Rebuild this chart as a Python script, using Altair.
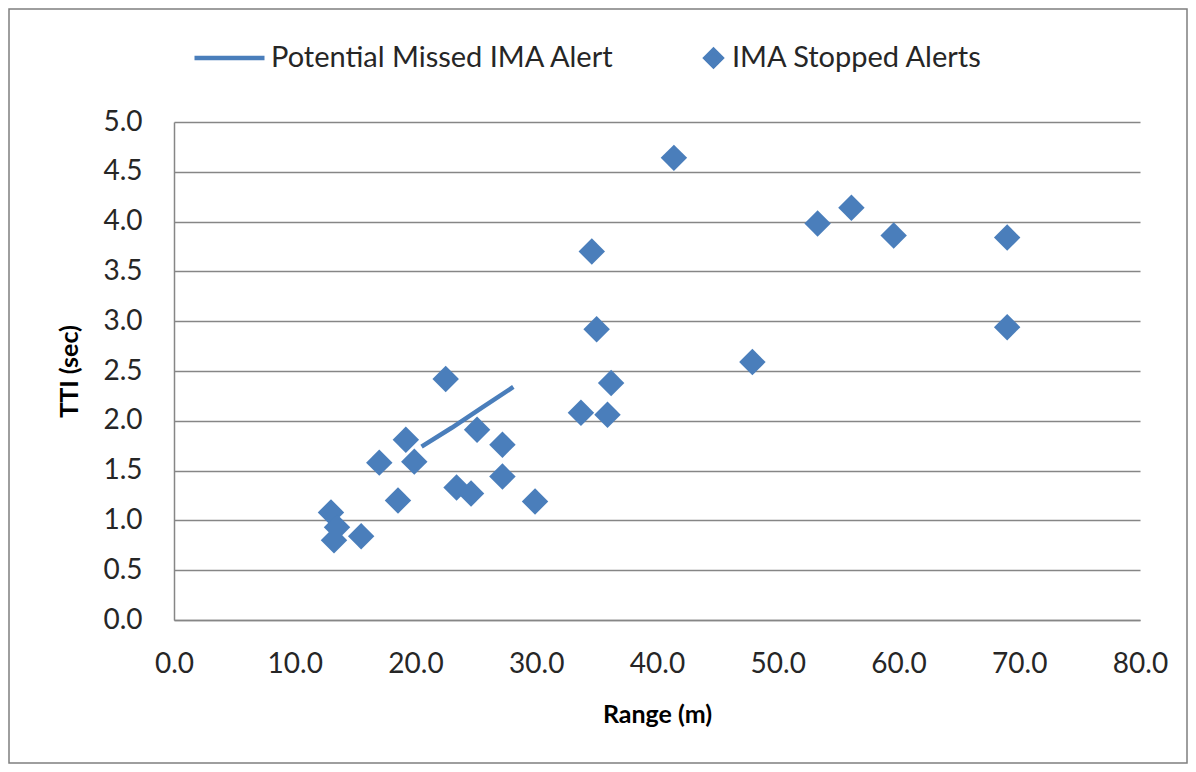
import altair as alt
import pandas as pd

# IMA Stopped Alerts (Range m, TTI sec)
stop_range = [13.0, 13.5, 13.25, 15.5, 17.0, 18.55, 19.2, 19.9, 22.5, 23.4, 24.6, 25.1,
              27.2, 27.2, 29.9, 33.7, 34.6, 35.0, 35.9, 36.2, 41.4, 47.9, 53.3, 56.1,
              59.6, 69.0, 69.0]
stop_tti = [1.08, 0.93, 0.80, 0.84, 1.58, 1.20, 1.81, 1.59, 2.42, 1.33, 1.27, 1.91,
            1.76, 1.44, 1.19, 2.08, 3.70, 2.92, 2.06, 2.38, 4.64, 2.59, 3.98, 4.14,
            3.86, 3.84, 2.94]

# Potential Missed IMA Alert (line)
miss_range = [20.5, 23.0, 25.6, 28.1]
miss_tti = [1.74, 1.93, 2.14, 2.34]

series_names = ["Potential Missed IMA Alert", "IMA Stopped Alerts"]
x_ticks = [0, 10, 20, 30, 40, 50, 60, 70, 80]
y_ticks = [0, 0.5, 1.0, 1.5, 2.0, 2.5, 3.0, 3.5, 4.0, 4.5, 5.0]

BLUE = "#4a7ebb"
FONT = "Lato, Open Sans, sans-serif"

pts = pd.DataFrame({"range": stop_range, "tti": stop_tti, "series": series_names[1]})
line = pd.DataFrame({"range": miss_range, "tti": miss_tti, "series": series_names[0]})
leg = pd.DataFrame({"series": series_names})

xs = alt.Scale(domain=[0, 80], nice=False, zero=True)
ys = alt.Scale(domain=[0, 5], nice=False)
color = alt.Color("series:N", title=None,
                  scale=alt.Scale(domain=series_names, range=[BLUE, BLUE]))

xax = alt.Axis(values=x_ticks, format=".1f", title="Range (m)", grid=False, ticks=False,
               labelPadding=30, titlePadding=24, labelFlush=False)
yax = alt.Axis(values=y_ticks, format=".1f", title="TTI (sec)", grid=True, ticks=False,
               labelPadding=32, titlePadding=20, labelFlush=False)

line_layer = alt.Chart(line).mark_line(strokeWidth=4.5, color=BLUE).encode(
    x=alt.X("range:Q", scale=xs, axis=xax),
    y=alt.Y("tti:Q", scale=ys, axis=yax),
    color=color,
)

pt_layer = alt.Chart(pts).mark_point(shape="diamond", filled=True, size=700, opacity=1).encode(
    x=alt.X("range:Q", scale=xs, axis=xax),
    y=alt.Y("tti:Q", scale=ys, axis=yax),
    color=color,
)

leg_layer = alt.Chart(leg).mark_point(filled=True, opacity=0).encode(
    x=alt.value(0), y=alt.value(0),
    color=color,
    shape=alt.Shape("series:N", title=None,
                    scale=alt.Scale(domain=series_names, range=["stroke", "diamond"])),
    size=alt.Size("series:N", title=None,
                  scale=alt.Scale(domain=series_names, range=[4900, 260])),
)

border = alt.Chart(pd.DataFrame({"a": [1]})).mark_rect(
    fill="white", fillOpacity=0, stroke="#7f7f7f", strokeWidth=1.5
).encode(x=alt.value(-165), x2=alt.value(1013), y=alt.value(-113), y2=alt.value(641))

chart = alt.layer(border, line_layer, pt_layer, leg_layer).properties(
    width=966, height=498,
    padding={"left": 166, "top": 114, "right": 48, "bottom": 144},
    autosize=alt.AutoSizeParams(type="none"),
    background="white",
).configure_view(stroke=None).configure_axis(
    labelFont=FONT, titleFont=FONT, labelFontSize=28, titleFontSize=25,
    labelColor="#262626", titleColor="#000", titleFontWeight="bold",
    domainColor="#868686", domainWidth=1.5, gridColor="#868686", gridWidth=1.5,
    gridOpacity=1,
).configure_legend(
    orient="none", legendX=18, legendY=-79, direction="horizontal",
    labelFont=FONT, labelFontSize=29, labelColor="#262626", labelLimit=0,
    symbolStrokeColor=BLUE, symbolStrokeWidth=4.5, symbolOpacity=1,
    columnPadding=84, labelOffset=4, symbolLimit=0, clipHeight=30,
)

chart.save("out.html", embed_options={"renderer": "svg", "actions": False})
